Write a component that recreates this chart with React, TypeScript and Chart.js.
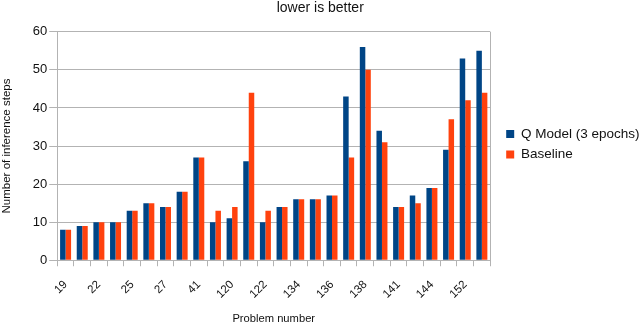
import React, { useEffect, useRef } from "react";
import { Chart, registerables } from "chart.js";

Chart.register(...registerables);

const categories = [
  "19", "", "22", "", "25", "", "27", "", "41", "", "120", "", "122", "",
  "134", "", "136", "", "138", "", "141", "", "144", "", "152", "",
];
const qModel = [8, 9, 10, 10, 13, 15, 14, 18, 27, 10, 11, 26, 10, 14, 16, 16, 17, 43, 56, 34, 14, 17, 19, 29, 53, 55];
const baseline = [8, 9, 10, 10, 13, 15, 14, 18, 27, 13, 14, 44, 13, 14, 16, 16, 17, 27, 50, 31, 14, 15, 19, 37, 42, 44];
const yTicks = [0, 10, 20, 30, 40, 50, 60];

const FONT = "'Liberation Sans', Arial, sans-serif";
const GRID = "#b3b3b3";

export default function App() {
  const ref = useRef<HTMLCanvasElement>(null);
  useEffect(() => {
    document.body.style.margin = "0";
    const frame = {
      id: "frame",
      afterLayout(chart: any) {
        const l = chart.legend;
        if (l) {
          l.left += 9;
          l.right += 9;
        }
      },
      afterDraw(chart: any) {
        const { ctx, chartArea } = chart;
        const x = Math.round(chartArea.right) + 0.5;
        ctx.save();
        ctx.strokeStyle = GRID;
        ctx.lineWidth = 1;
        ctx.beginPath();
        ctx.moveTo(x, chartArea.top);
        ctx.lineTo(x, chartArea.bottom);
        ctx.stroke();
        ctx.restore();
      },
    };
    const chart = new Chart(ref.current!, {
      type: "bar",
      data: {
        labels: categories,
        datasets: [
          { label: "Q Model (3 epochs)", data: qModel, backgroundColor: "#004586" },
          { label: "Baseline", data: baseline, backgroundColor: "#ff420e" },
        ],
      },
      options: {
        animation: false,
        responsive: false,
        maintainAspectRatio: false,
        layout: { padding: { left: 0, right: -0.5, top: 0, bottom: -4 } },
        datasets: { bar: { categoryPercentage: 0.66, barPercentage: 1.0 } },
        plugins: {
          title: {
            display: true,
            text: "lower is better",
            color: "#111",
            font: { family: FONT, size: 14, weight: "normal" },
            padding: { top: 0, bottom: 15 },
          },
          legend: {
            position: "right",
            align: "start",
            title: {
              display: true,
              text: " ",
              font: { family: FONT, size: 1 },
              padding: { top: 119, bottom: 0 },
            },
            labels: {
              boxWidth: 8,
              boxHeight: 8,
              color: "#111",
              padding: 7,
              font: { family: FONT, size: 13.5 },
            },
          },
          tooltip: { enabled: false },
        },
        scales: {
          x: {
            grid: {
              offset: true,
              drawOnChartArea: false,
              drawTicks: true,
              tickLength: 6,
              color: GRID,
            },
            border: { color: GRID },
            ticks: {
              autoSkip: false,
              minRotation: 45,
              maxRotation: 45,
              color: "#111",
              padding: 11.5,
              font: { family: FONT, size: 11.5 },
            },
            title: {
              display: true,
              text: "Problem number",
              color: "#111",
              font: { family: FONT, size: 11.2 },
              padding: { top: 0, bottom: 0 },
            },
          },
          y: {
            min: 0,
            max: 60,
            afterBuildTicks: (axis: any) => {
              axis.ticks = yTicks.map((v) => ({ value: v }));
            },
            grid: { color: GRID, tickLength: 8 },
            border: { color: GRID },
            ticks: {
              color: "#111",
              padding: 2,
              font: { family: FONT, size: 13 },
            },
            title: {
              display: true,
              text: "Number of inference steps",
              color: "#111",
              font: { family: FONT, size: 11.5 },
              padding: { top: 0, bottom: 17 },
            },
          },
        },
      },
      plugins: [frame],
    });
    return () => chart.destroy();
  }, []);
  return (
    <div style={{ width: 640, height: 322 }}>
      <canvas ref={ref} width={640} height={322} style={{ display: "block" }} />
    </div>
  );
}
